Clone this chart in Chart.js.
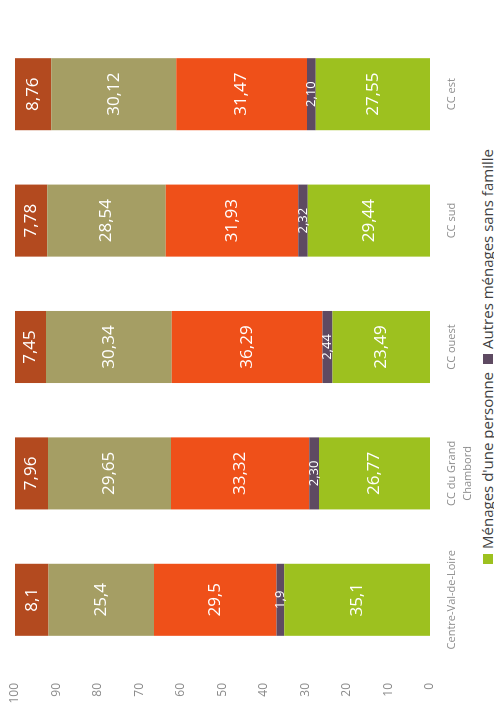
<!DOCTYPE html>
<html lang="fr">
<head>
<meta charset="utf-8">
<title>Structure des ménages</title>
<script src="https://cdn.jsdelivr.net/npm/chart.js@4.4.1/dist/chart.umd.min.js"></script>
<style>
  html, body { margin: 0; padding: 0; background: #fff; width: 494px; height: 713px; overflow: hidden; }
  /* the whole figure is laid out landscape, then turned a quarter turn */
  #frame {
    position: absolute; left: 0; top: 713px;
    width: 713px; height: 560px;
    transform-origin: 0 0; transform: rotate(-90deg);
  }
  #chart { display: block; }
  #legend {
    width: 480px; margin: 0 auto; text-align: center;
    font: 15px "Open Sans", sans-serif; color: #404040; line-height: 22px;
  }
  #legend .item { display: inline-block; margin: 0 4px; white-space: nowrap; }
  #legend .box { display: inline-block; width: 10px; height: 10px; margin-right: 5px; }
</style>
</head>
<body>
<div id="frame">
  <canvas id="chart" width="713" height="476"></canvas>
  <div id="legend"></div>
</div>
<script>
const categories = ["Centre-Val-de-Loire", ["CC du Grand", "Chambord"], "CC ouest", "CC sud", "CC est"];
const decimals = [1, 2, 2, 2, 2];

const unePersonne = [35.1, 26.77, 23.49, 29.44, 27.55];
const autresSansFamille = [1.9, 2.30, 2.44, 2.32, 2.10];
const couplesSansEnfant = [29.5, 33.32, 36.29, 31.93, 31.47];
const couplesAvecEnfants = [25.4, 29.65, 30.34, 28.54, 30.12];
const monoparentales = [8.1, 7.96, 7.45, 7.78, 8.76];

const seriesNames = [
    "Ménages d'une personne",
    "Autres ménages sans famille",
    "Couples sans enfant",
    "Couples avec enfant(s)",
    "Familles monoparentales"
];
const seriesColors = ["#9dc11f", "#5e4a62", "#ef5019", "#a59e64", "#b34a1f"];

const fontFamily = '"Open Sans", sans-serif';

// writes the value of each segment in its middle
const barValueLabels = {
    id: "barValueLabels",
    afterDatasetsDraw(chart) {
        const ctx = chart.ctx;
        ctx.save();
        ctx.textAlign = "center";
        ctx.textBaseline = "middle";
        ctx.fillStyle = "#ffffff";
        chart.data.datasets.forEach(function (ds, i) {
            chart.getDatasetMeta(i).data.forEach(function (bar, j) {
                const v = ds.data[j];
                const p = bar.getProps(["x", "y", "base"], true);
                ctx.font = (v < 5 ? "13px " : "17px ") + fontFamily;
                ctx.fillText(v.toFixed(decimals[j]).replace(".", ","), p.x, (p.y + p.base) / 2);
            });
        });
        ctx.restore();
    }
};

document.addEventListener("DOMContentLoaded", function () {
    const canvas = document.getElementById("chart");
    const values = [unePersonne, autresSansFamille, couplesSansEnfant, couplesAvecEnfants, monoparentales];

    const chart = new Chart(canvas.getContext("2d"), {
        type: "bar",
        data: {
            labels: categories,
            datasets: values.map(function (data, i) {
                return {
                    label: seriesNames[i],
                    data: data,
                    backgroundColor: seriesColors[i],
                    borderWidth: 0,
                    categoryPercentage: 1,
                    barPercentage: 0.57
                };
            })
        },
        options: {
            responsive: false,
            animation: false,
            layout: { padding: { top: 15, right: 31, bottom: 0, left: 0 } },
            plugins: {
                legend: { display: false },
                tooltip: { enabled: false }
            },
            scales: {
                x: {
                    stacked: true,
                    grid: { display: false, drawTicks: false },
                    border: { display: false },
                    ticks: {
                        color: "#8c8c8c",
                        font: { family: fontFamily, size: 11, lineHeight: 1.45 },
                        padding: 14,
                        maxRotation: 0,
                        autoSkip: false
                    },
                    afterFit: function (axis) { axis.height = 46; }
                },
                y: {
                    stacked: true,
                    min: 0,
                    max: 100,
                    grid: { display: false, drawTicks: false },
                    border: { display: false },
                    ticks: {
                        stepSize: 10,
                        color: "#8c8c8c",
                        font: { family: fontFamily, size: 12 },
                        padding: 20
                    },
                    afterFit: function (axis) {
                        // keep the tick gap from pushing the plot area down
                        axis.width = 50;
                        axis.paddingTop = 7;
                        axis.paddingBottom = 7;
                    }
                }
            }
        },
        plugins: [barValueLabels]
    });

    // legend under the chart, wrapping onto a second line
    const legend = document.getElementById("legend");
    chart.data.datasets.forEach(function (ds) {
        const item = document.createElement("span");
        item.className = "item";
        const box = document.createElement("span");
        box.className = "box";
        box.style.background = ds.backgroundColor;
        item.appendChild(box);
        item.appendChild(document.createTextNode(ds.label));
        legend.appendChild(item);
    });
});
</script>
</body>
</html>
